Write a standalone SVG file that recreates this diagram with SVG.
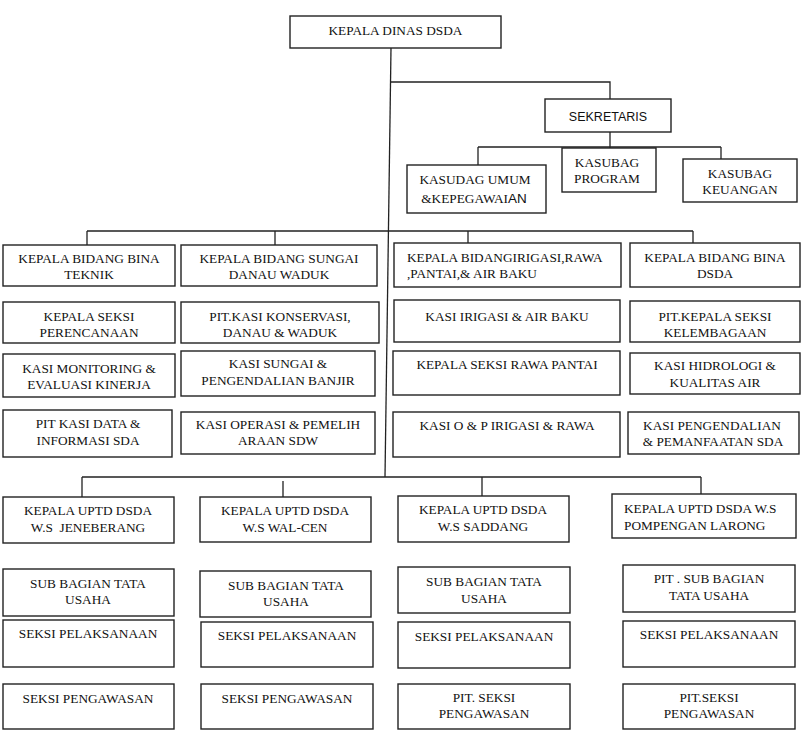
<svg xmlns="http://www.w3.org/2000/svg" width="806" height="730" viewBox="0 0 806 730">
<style>
.box{fill:#fff;stroke:#222;stroke-width:1.4}
.t{font-family:"Liberation Serif","Times New Roman",serif;font-size:13.3px;fill:#111;text-anchor:middle}
.l{text-anchor:start}
.s{font-family:"Liberation Sans",Arial,sans-serif}
.c{fill:none;stroke:#222;stroke-width:1.3}
</style>
<rect width="806" height="730" fill="#fff"/>
<g id="connectors" class="c">
<path d="M391 48 L385 477"/>
<path d="M390 82 H610 V99"/>
<path d="M610 132 V147 M478 147 H721 M478 147 V165 M610 147 V148 M721 147 V159"/>
<path d="M87 231 H693 M87 231 V245 M275 231 V245 M468 231 V243 M693 231 V243"/>
<path d="M82 477 H701 M82 477 V497 M283 481 V497 M482 477 V496 M701 477 V494"/>
</g>
<g id="kepala-dinas"><rect class="box" x="290" y="16" width="211" height="32"/><text class="t" x="395.5" y="35">KEPALA DINAS DSDA</text></g>
<g id="sekretaris"><rect class="box" x="545" y="99" width="126" height="33"/><text class="t s" x="608" y="121" style="font-size:12.5px">SEKRETARIS</text></g>
<g id="kasudag-umum"><rect class="box" x="407" y="165" width="139" height="48"/><text class="t" x="475" y="184">KASUDAG UMUM</text><text class="t" x="474" y="203">&amp;KEPEGAWAI<tspan class="s" style="font-size:13.5px">AN</tspan></text></g>
<g id="kasubag-program"><rect class="box" x="562" y="148" width="94" height="44"/><text class="t" x="607" y="167">KASUBAG</text><text class="t" x="607" y="183">PROGRAM</text></g>
<g id="kasubag-keuangan"><rect class="box" x="683" y="159" width="114" height="43"/><text class="t" x="740" y="178">KASUBAG</text><text class="t" x="740" y="194">KEUANGAN</text></g>

<g id="bidang-bina-teknik"><rect class="box" x="3" y="245" width="172" height="41"/><text class="t" x="89" y="263">KEPALA BIDANG BINA</text><text class="t" x="89" y="279">TEKNIK</text></g>
<g id="bidang-sungai"><rect class="box" x="181" y="245" width="196" height="41"/><text class="t" x="279" y="263">KEPALA BIDANG SUNGAI</text><text class="t" x="279" y="279">DANAU WADUK</text></g>
<g id="bidang-irigasi"><rect class="box" x="394" y="243" width="227" height="44"/><text class="t l" x="407" y="262">KEPALA BIDANGIRIGASI,RAWA</text><text class="t l" x="407" y="278">,PANTAI,&amp; AIR BAKU</text></g>
<g id="bidang-bina-dsda"><rect class="box" x="630" y="243" width="170" height="44"/><text class="t" x="715" y="262">KEPALA BIDANG BINA</text><text class="t" x="715" y="278">DSDA</text></g>

<g id="seksi-perencanaan"><rect class="box" x="3" y="302" width="172" height="41"/><text class="t" x="89" y="321">KEPALA SEKSI</text><text class="t" x="89" y="337">PERENCANAAN</text></g>
<g id="kasi-konservasi"><rect class="box" x="181" y="302" width="198" height="41"/><text class="t" x="280" y="321">PIT.KASI KONSERVASI,</text><text class="t" x="280" y="337">DANAU &amp; WADUK</text></g>
<g id="kasi-irigasi"><rect class="box" x="394" y="300" width="226" height="42"/><text class="t" x="507" y="321">KASI IRIGASI &amp; AIR BAKU</text></g>
<g id="seksi-kelembagaan"><rect class="box" x="630" y="301" width="170" height="41"/><text class="t" x="715" y="321">PIT.KEPALA SEKSI</text><text class="t" x="715" y="337">KELEMBAGAAN</text></g>

<g id="kasi-monitoring"><rect class="box" x="3" y="354" width="172" height="43"/><text class="t" x="89" y="373">KASI MONITORING &amp;</text><text class="t" x="89" y="389">EVALUASI KINERJA</text></g>
<g id="kasi-sungai"><rect class="box" x="181" y="351" width="194" height="45"/><text class="t" x="278" y="368">KASI SUNGAI &amp;</text><text class="t" x="278" y="385">PENGENDALIAN BANJIR</text></g>
<g id="seksi-rawa-pantai"><rect class="box" x="393" y="351" width="227" height="44"/><text class="t" x="507" y="369">KEPALA SEKSI RAWA PANTAI</text></g>
<g id="kasi-hidrologi"><rect class="box" x="630" y="353" width="170" height="41"/><text class="t" x="715" y="370">KASI HIDROLOGI &amp;</text><text class="t" x="715" y="387">KUALITAS AIR</text></g>

<g id="kasi-data"><rect class="box" x="3" y="410" width="169" height="47"/><text class="t" x="88" y="428">PIT KASI DATA &amp;</text><text class="t" x="88" y="445">INFORMASI SDA</text></g>
<g id="kasi-operasi"><rect class="box" x="181" y="412" width="194" height="42"/><text class="t" x="278" y="429">KASI OPERASI &amp; PEMELIH</text><text class="t" x="278" y="445">ARAAN SDW</text></g>
<g id="kasi-op-irigasi"><rect class="box" x="393" y="412" width="227" height="45"/><text class="t" x="507" y="430">KASI O &amp; P IRIGASI &amp; RAWA</text></g>
<g id="kasi-pengendalian"><rect class="box" x="628" y="412" width="171" height="42"/><text class="t" x="712" y="430">KASI PENGENDALIAN</text><text class="t" x="713" y="446">&amp; PEMANFAATAN SDA</text></g>

<g id="uptd-jeneberang"><rect class="box" x="3" y="497" width="171" height="46"/><text class="t" x="88" y="515">KEPALA UPTD DSDA</text><text class="t" x="88" y="532" xml:space="preserve">W.S  JENEBERANG</text></g>
<g id="uptd-walcen"><rect class="box" x="200" y="497" width="171" height="45"/><text class="t" x="285" y="515">KEPALA UPTD DSDA</text><text class="t" x="285" y="532">W.S WAL-CEN</text></g>
<g id="uptd-saddang"><rect class="box" x="398" y="496" width="171" height="46"/><text class="t" x="483" y="514">KEPALA UPTD DSDA</text><text class="t" x="483" y="531">W.S SADDANG</text></g>
<g id="uptd-pompengan"><rect class="box" x="612" y="494" width="184" height="44"/><text class="t l" x="624" y="513">KEPALA UPTD DSDA W.S</text><text class="t l" x="624" y="530">POMPENGAN LARONG</text></g>

<g id="tu-1"><rect class="box" x="3" y="569" width="171" height="47"/><text class="t" x="88" y="588">SUB BAGIAN TATA</text><text class="t" x="88" y="604">USAHA</text></g>
<g id="tu-2"><rect class="box" x="200" y="571" width="171" height="46"/><text class="t" x="286" y="590">SUB BAGIAN TATA</text><text class="t" x="286" y="606">USAHA</text></g>
<g id="tu-3"><rect class="box" x="398" y="567" width="172" height="46"/><text class="t" x="484" y="586">SUB BAGIAN TATA</text><text class="t" x="484" y="603">USAHA</text></g>
<g id="tu-4"><rect class="box" x="623" y="565" width="172" height="47"/><text class="t" x="709" y="583">PIT . SUB BAGIAN</text><text class="t" x="709" y="600">TATA USAHA</text></g>

<g id="pelaksanaan-1"><rect class="box" x="3" y="620" width="171" height="47"/><text class="t" x="88" y="638">SEKSI PELAKSANAAN</text></g>
<g id="pelaksanaan-2"><rect class="box" x="201" y="622" width="172" height="45"/><text class="t" x="287" y="640">SEKSI PELAKSANAAN</text></g>
<g id="pelaksanaan-3"><rect class="box" x="398" y="622" width="172" height="46"/><text class="t" x="484" y="641">SEKSI PELAKSANAAN</text></g>
<g id="pelaksanaan-4"><rect class="box" x="623" y="621" width="172" height="46"/><text class="t" x="709" y="639">SEKSI PELAKSANAAN</text></g>

<g id="pengawasan-1"><rect class="box" x="3" y="684" width="171" height="45"/><text class="t" x="88" y="703">SEKSI PENGAWASAN</text></g>
<g id="pengawasan-2"><rect class="box" x="201" y="684" width="172" height="45"/><text class="t" x="287" y="703">SEKSI PENGAWASAN</text></g>
<g id="pengawasan-3"><rect class="box" x="398" y="684" width="172" height="45"/><text class="t" x="484" y="702">PIT. SEKSI</text><text class="t" x="484" y="718">PENGAWASAN</text></g>
<g id="pengawasan-4"><rect class="box" x="623" y="684" width="172" height="45"/><text class="t" x="709" y="702">PIT.SEKSI</text><text class="t" x="709" y="718">PENGAWASAN</text></g>
</svg>
